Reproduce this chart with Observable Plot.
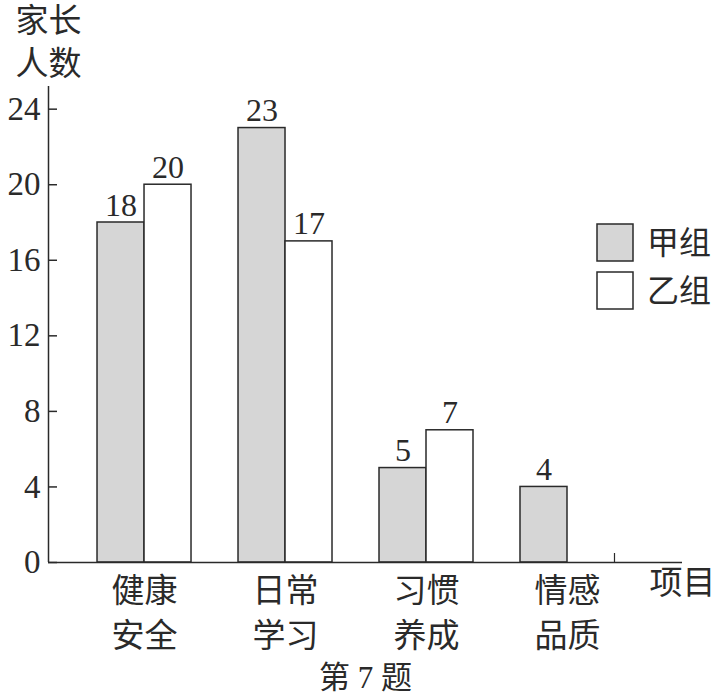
<!DOCTYPE html>
<html>
<head>
<meta charset="utf-8">
<script src="https://cdn.jsdelivr.net/npm/d3@7"></script>
<script src="https://cdn.jsdelivr.net/npm/@observablehq/plot@0.6"></script>
<style>
  html, body { margin: 0; padding: 0; background: white; }
  #chart { width: 715px; height: 696px; }
</style>
</head>
<body>
<div id="chart"></div>
<script>
const categories = ["健康\n安全", "日常\n学习", "习惯\n养成", "情感\n品质"];
const groupA = [18, 23, 5, 4];
const groupB = [20, 17, 7, 0];
const seriesNames = ["甲组", "乙组"];
const yTicks = [0, 4, 8, 12, 16, 20, 24];
const xAxisLabel = "项目";
const yAxisLabel = "家长\n人数";
const caption = "第 7 题";

const rows = categories.flatMap((c, i) => [
  {cat: c, i, g: 0, series: seriesNames[0], value: groupA[i]},
  {cat: c, i, g: 1, series: seriesNames[1], value: groupB[i]}
]);
const shown = rows.filter(d => d.value > 0);

const W = 715, H = 696;
const mL = 48, mR = 33, mT = 86, mB = 134;
const frameW = W - mL - mR, frameH = H - mT - mB;
const xMin = -1.043, xMax = 12.447;
const yMax = 25.2;
const ink = "#2a2a2a";
const serif = "'Liberation Serif', 'Noto Sans CJK SC', serif";
const colors = ["#d6d6d6", "white"];

const chart = Plot.plot({
  width: W, height: H,
  marginLeft: mL, marginRight: mR, marginTop: mT, marginBottom: mB,
  x: {domain: [xMin, xMax], axis: null},
  y: {domain: [0, yMax], axis: null},
  color: {domain: seriesNames, range: colors},
  style: {fontFamily: serif, color: ink, background: "white", overflow: "visible"},
  marks: [
    Plot.rect(shown, {
      x1: d => 3 * d.i + d.g, x2: d => 3 * d.i + d.g + 1,
      y1: 0, y2: "value", fill: "series", stroke: ink, strokeWidth: 1.5
    }),
    Plot.ruleY([0], {stroke: ink, strokeWidth: 1.5}),
    Plot.ruleX([xMin], {stroke: ink, strokeWidth: 1.5}),
    Plot.tickY(yTicks, {y: d => d, insetRight: frameW - 9, stroke: ink, strokeWidth: 1.5}),
    Plot.tickX([3 * (categories.length - 1) + 2], {x: d => d, insetTop: frameH - 9, stroke: ink, strokeWidth: 1.2}),
    Plot.axisY(yTicks, {tickSize: 0, tickPadding: 8, fontSize: 33, fill: ink, label: null}),
    Plot.text(shown, {
      x: d => 3 * d.i + d.g + 0.5, y: "value", text: d => String(d.value),
      lineAnchor: "bottom", dy: -7, fontSize: 32, fill: ink
    }),
    Plot.text(categories, {
      x: (d, i) => 3 * i + 1, y: () => 0, text: d => d,
      lineAnchor: "top", dy: 8, fontSize: 33, lineHeight: 1.35, fill: ink
    }),
    Plot.text([xAxisLabel], {
      x: () => xMax, y: () => 0, text: d => d,
      lineAnchor: "top", dy: 8, fontSize: 33, fill: ink
    }),
    Plot.text([yAxisLabel], {
      frameAnchor: "top-left", text: d => d, textAnchor: "middle",
      lineAnchor: "top", dy: -85, fontSize: 33, lineHeight: 1.3, fill: ink
    }),
    Plot.text([caption], {
      frameAnchor: "bottom", text: d => d, lineAnchor: "middle",
      dy: 116, fontSize: 31, fill: ink
    })
  ]
});

// Legend
const svg = d3.select(chart);
const lg = svg.append("g").attr("font-family", serif).attr("fill", ink)
  .attr("text-anchor", "start");
seriesNames.forEach((name, k) => {
  const y0 = 224 + k * 48;
  lg.append("rect").attr("x", 597).attr("y", y0).attr("width", 36).attr("height", 37)
    .attr("fill", colors[k]).attr("stroke", ink).attr("stroke-width", 1.5);
  lg.append("text").attr("x", 647).attr("y", y0 + 18.5).attr("dy", "0.36em")
    .attr("text-anchor", "start").attr("font-size", 32).text(name);
});

document.getElementById("chart").appendChild(chart);
</script>
</body>
</html>
